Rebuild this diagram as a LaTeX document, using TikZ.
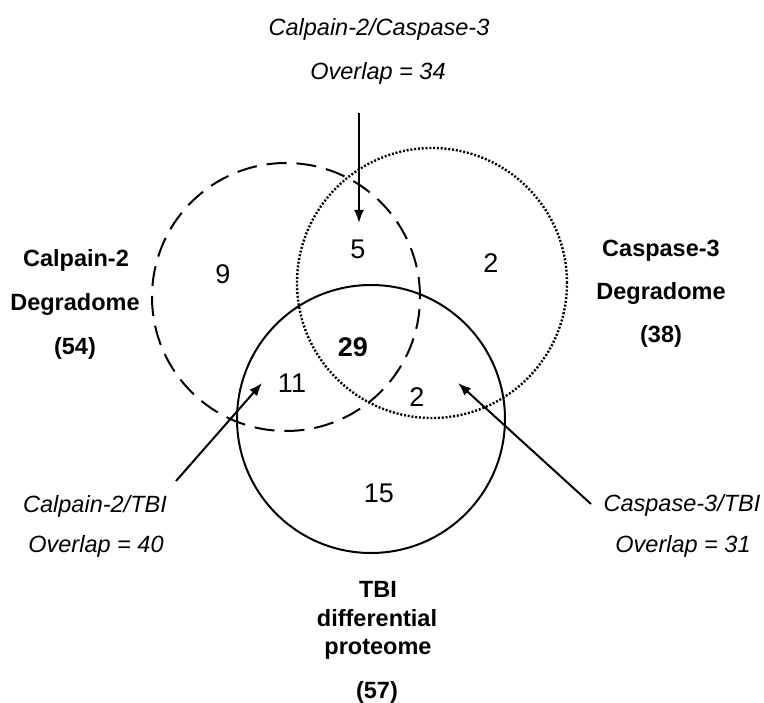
\documentclass[tikz,border=0pt]{standalone}
\usepackage{fontspec}
\setmainfont{Liberation Sans}
\usetikzlibrary{arrows.meta}
\begin{document}
\begin{tikzpicture}[x=1pt,y=-1pt,
  lab/.style={font=\fontsize{23.5}{28}\selectfont\itshape, anchor=base, inner sep=0pt},
  blab/.style={font=\fontsize{23.5}{28}\selectfont\bfseries, anchor=base, inner sep=0pt},
  num/.style={font=\fontsize{27}{32}\selectfont, inner sep=0pt},
  bnum/.style={font=\fontsize{27}{32}\selectfont\bfseries, inner sep=0pt},
  ring/.style={line width=2pt},
  arr/.style={line width=2pt, -{Latex[length=13pt,width=10pt]}}
]
\useasboundingbox (0,0) rectangle (764,703);

% circles
\draw[ring, dash pattern=on 20pt off 10pt] (286,297) circle[radius=134pt];
\draw[ring, line width=2.4pt, dash pattern=on 2pt off 1.8pt] (432,283) circle[radius=135pt];
\draw[ring] (371,419) circle[radius=134pt];

% region counts
\node[num]  (n5)  at (358,249) {5};
\node[num]  (n2a) at (491,263) {2};
\node[num]  (n9)  at (223,274) {9};
\node[bnum] (n29) at (353,347) {29};
\node[num]  (n11) at (292,383) {11};
\node[num]  (n2b) at (417,397) {2};
\node[num]  (n15) at (379,493) {15};

% set labels
\node[blab] (cal1) at (76,267) {Calpain-2};
\node[blab] (cal2) at (75,311) {Degradome};
\node[blab] (cal3) at (75,355) {(54)};

\node[blab] (cas1) at (661,257) {Caspase-3};
\node[blab] (cas2) at (661,300) {Degradome};
\node[blab] (cas3) at (661,343) {(38)};

\node[blab] (tbi1) at (378,597) {TBI};
\node[blab] (tbi2) at (377,626) {differential};
\node[blab] (tbi3) at (378,654) {proteome};
\node[blab] (tbi4) at (377,698) {(57)};

% overlap labels
\node[lab] (cc1) at (379,36) {Calpain-2/Caspase-3};
\node[lab] (cc2) at (378,80) {Overlap = 34};
\node[lab] (ct1) at (95,513) {Calpain-2/TBI};
\node[lab] (ct2) at (96,553) {Overlap = 40};
\node[lab] (st1) at (682,512) {Caspase-3/TBI};
\node[lab] (st2) at (683,553) {Overlap = 31};

% arrows
\coordinate (a1s) at (359,113);
\coordinate (a1e) at (359,223);
\coordinate (a2s) at (176,481);
\coordinate (a2e) at (262,383);
\coordinate (a3s) at (591,504);
\coordinate (a3e) at (458,383);
\draw[arr] (a1s) -- (a1e);
\draw[arr] (a2s) -- (a2e);
\draw[arr] (a3s) -- (a3e);
\end{tikzpicture}
\end{document}
